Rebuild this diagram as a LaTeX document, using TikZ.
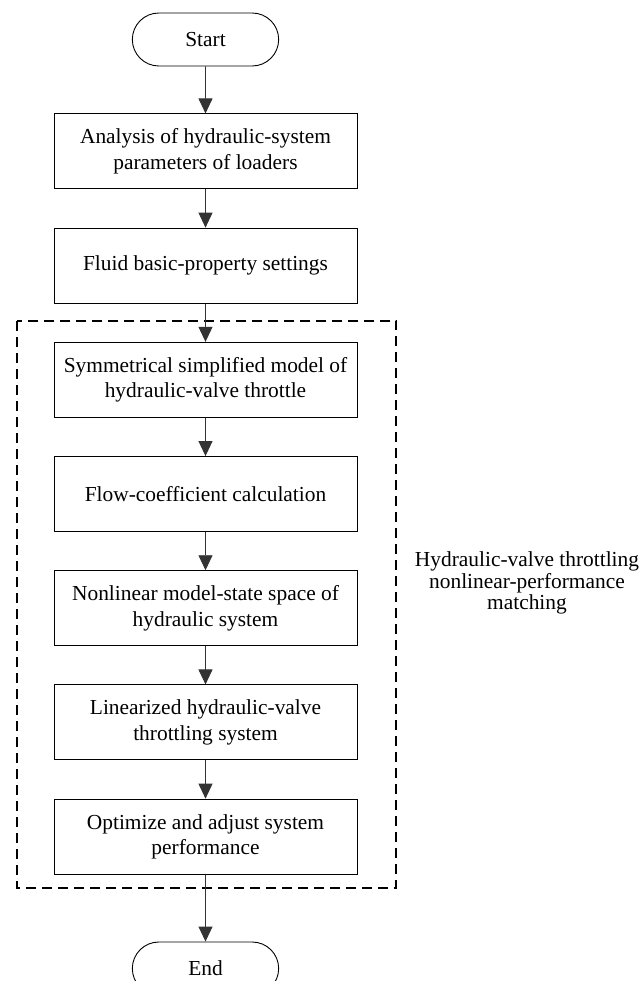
\documentclass[tikz,border=0pt]{standalone}
\usepackage{fontspec}
\setmainfont{Liberation Serif}
\usetikzlibrary{positioning,shapes.misc,arrows.meta}
\begin{document}
\begin{tikzpicture}[x=1pt, y=1pt, node distance=38.3pt, >={Triangle[width=14pt,length=15pt]}, font=\fontsize{21.4}{25.5}\selectfont]
        \tikzstyle{block} = [rectangle, draw=black, line width=0.9pt, align=center,
                            text centered, minimum width=303pt, minimum height=75pt]
        \tikzstyle{term} = [rounded rectangle, draw=black, line width=0.9pt, minimum width=153pt, minimum height=53pt]
        \tikzstyle{flow} = [->, line width=0.9pt, draw=black!80, fill=black]
        \useasboundingbox (0,0) rectangle (640,-981);

        % Noeuds
        \node[term] (start) at (205.5,-39.5) {Start};
        \node[block, below=47pt of start] (analysis) {Analysis of hydraulic-system\\parameters of loaders};
        \node[block, below=of analysis] (fluid) {Fluid basic-property settings};
        \node[block, below=of fluid] (symmetric) {Symmetrical simplified model of\\hydraulic-valve throttle};
        \node[block, below=of symmetric] (flowcoef) {Flow-coefficient calculation};
        \node[block, below=of flowcoef] (statespace) {Nonlinear model-state space of\\hydraulic system};
        \node[block, below=of statespace] (linear) {Linearized hydraulic-valve\\throttling system};
        \node[block, below=of linear] (optimize) {Optimize and adjust system\\performance};
        \node[term, below=67pt of optimize] (end) {End};

        % Cadre
        \draw[line width=2pt, dash pattern=on 10pt off 6pt] ([xshift=-37pt,yshift=21pt]symmetric.north west) rectangle ([xshift=39pt,yshift=-13pt]optimize.south east);
        \node[align=center, font=\fontsize{21.4}{21.5}\selectfont] (matching) at (527,-583) {Hydraulic-valve throttling\\nonlinear-performance\\matching};

        % Flèches
        \draw[flow] (start) -- (analysis);
        \draw[flow] (analysis) -- (fluid);
        \draw[flow] (fluid) -- (symmetric);
        \draw[flow] (symmetric) -- (flowcoef);
        \draw[flow] (flowcoef) -- (statespace);
        \draw[flow] (statespace) -- (linear);
        \draw[flow] (linear) -- (optimize);
        \draw[flow] (optimize) -- (end);
    \end{tikzpicture}
\end{document}
